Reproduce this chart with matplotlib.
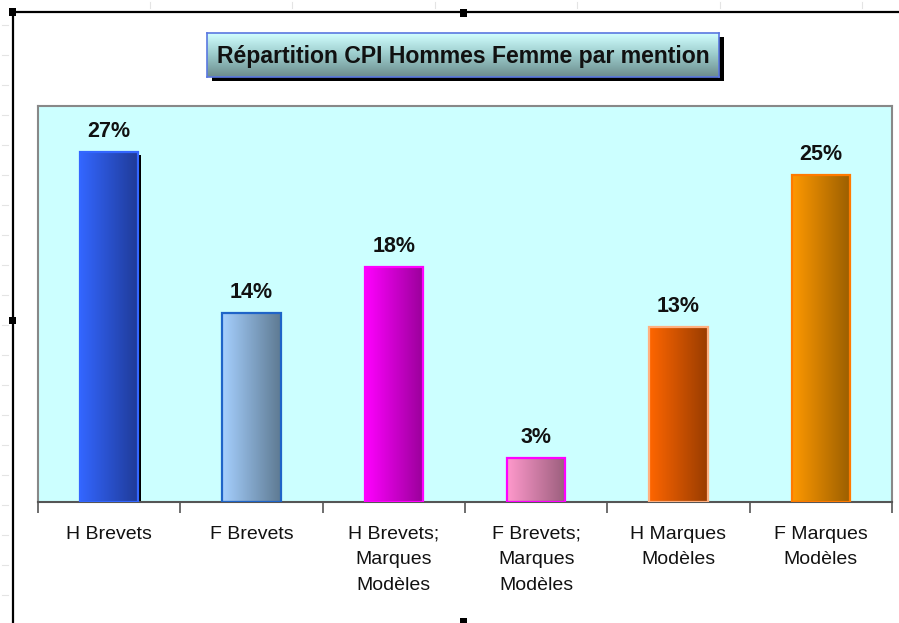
import numpy as np
import matplotlib
matplotlib.use("Agg")
import matplotlib.pyplot as plt
from matplotlib.patches import Rectangle
from matplotlib.colors import LinearSegmentedColormap

plt.rcParams['font.family'] = ['Liberation Sans', 'DejaVu Sans']

# ---- data ----
categories = ["H Brevets", "F Brevets", "H Brevets;\nMarques\nModèles",
              "F Brevets;\nMarques\nModèles", "H Marques\nModèles", "F Marques\nModèles"]
values = [27.0, 14.4, 18.0, 3.0, 13.3, 25.2]
title = "Répartition CPI Hommes Femme par mention"

# gradient (left colour, right colour) and edge colour per bar
grad_left = ["#3366FF", "#A6D0FF", "#FF00FF", "#FF99CC", "#FF6600", "#FF9900"]
grad_right = ["#1F3A96", "#5E7A92", "#990099", "#9A5E7C", "#983C00", "#9A5E00"]
edge_cols = ["#3366FF", "#1F64C8", "#FF00FF", "#FF00FF", "#FFB080", "#FF7A00"]

W, H = 899, 623
fig = plt.figure(figsize=(W / 100, H / 100), dpi=100)
fig.patch.set_facecolor("white")

def fx(px):
    return px / W

def fy(py):
    return 1 - py / H

# ---- outer chart frame (spreadsheet selection look) ----
for yy in range(25, 623, 30):
    fig.add_artist(plt.Line2D([fx(2), fx(8)], [fy(yy), fy(yy)], color="#E4E4E4", lw=0.8))
for xx in [150, 292, 435, 577, 720, 862]:
    fig.add_artist(plt.Line2D([fx(xx), fx(xx)], [fy(2), fy(8)], color="#E4E4E4", lw=0.8))
fig.add_artist(plt.Line2D([fx(12), fx(899)], [fy(11.5), fy(11.5)], color="black", lw=1.6))
fig.add_artist(plt.Line2D([fx(12.5), fx(12.5)], [fy(11), fy(623)], color="black", lw=1.6))
for (hx, hy) in [(12, 12), (463, 13), (12, 320), (463, 621)]:
    fig.add_artist(Rectangle((fx(hx - 3.5), fy(hy + 3.5)), fx(7), 7 / H,
                             facecolor="black", edgecolor="none"))

# ---- main axes ----
ax_l, ax_r, ax_t, ax_b = 38, 892, 106, 502
ax = fig.add_axes([fx(ax_l), fy(ax_b), fx(ax_r - ax_l), (ax_b - ax_t) / H])
ax.set_facecolor("#CCFFFF")
ymin, ymax = -0.45, 30.6
n = len(categories)
x = np.arange(n)
bw = 0.41
bars = ax.bar(x, [v - ymin for v in values], bottom=ymin, width=bw,
              facecolor="none", edgecolor="none", zorder=2)

for i, b in enumerate(bars):
    x0, y0 = b.get_x(), b.get_y()
    x1, y1 = x0 + b.get_width(), y0 + b.get_height()
    if i == 0:
        ax.add_patch(Rectangle((x1, y0), 0.022, (y1 - y0) - 0.25,
                               facecolor="black", edgecolor="none", zorder=1.5))
    cmap = LinearSegmentedColormap.from_list(f"g{i}", [grad_left[i], grad_right[i]])
    grad = np.linspace(0, 1, 256).reshape(1, -1)
    ax.imshow(grad, cmap=cmap, extent=(x0, x1, y0, y1), aspect="auto",
              origin="lower", zorder=2, interpolation="bilinear")
    ax.add_patch(Rectangle((x0, y0), x1 - x0, y1 - y0, facecolor="none",
                           edgecolor=edge_cols[i], lw=1.6, zorder=3))
    ax.text(b.get_x() + b.get_width() / 2, values[i] + 0.75, f"{values[i]:.0f}%",
            ha="center", va="bottom", fontsize=15.5, fontweight="bold", color="#111111")

ax.set_xlim(-0.5, n - 0.5)
ax.set_ylim(ymin, ymax)
ax.set_yticks([])
ax.set_xticks(np.arange(-0.5, n, 1.0))
ax.set_xticklabels([])
ax.set_xticks(x, minor=True)
ax.set_xticklabels(categories, minor=True, fontsize=14, linespacing=1.66, color="#111111")
ax.tick_params(axis="x", which="major", direction="out", length=8, width=1.2, color="#555555")
ax.tick_params(axis="x", which="minor", length=0, pad=17)
for s in ["top", "right", "left"]:
    ax.spines[s].set_color("#888888")
    ax.spines[s].set_linewidth(1.5)
ax.spines["bottom"].set_color("#555555")
ax.spines["bottom"].set_linewidth(1.5)

# ---- title box ----
tb_l, tb_r, tb_t, tb_b = 207, 719, 33, 77
shadow = Rectangle((fx(tb_l + 5), fy(tb_b + 4)), fx(tb_r - tb_l), (tb_b - tb_t) / H,
                   facecolor="black", edgecolor="none", zorder=-1)
fig.add_artist(shadow)
tax = fig.add_axes([fx(tb_l), fy(tb_b), fx(tb_r - tb_l), (tb_b - tb_t) / H])
tax.set_zorder(5)
tcmap = LinearSegmentedColormap.from_list("tg", ["#D2FFFF", "#9ACACA", "#6C8C8C"])
tax.imshow(np.linspace(0, 1, 256).reshape(-1, 1), cmap=tcmap, aspect="auto",
           extent=(0, 1, 0, 1), origin="upper", interpolation="bilinear")
tax.set_xlim(0, 1)
tax.set_ylim(0, 1)
tax.set_xticks([])
tax.set_yticks([])
for s in tax.spines.values():
    s.set_color("#5A78E0")
    s.set_linewidth(1.2)
tax.text(0.5, 0.47, title, ha="center", va="center", fontsize=16.6,
         fontweight="bold", color="#111111", transform=tax.transAxes)

fig.savefig("out.png", dpi=100, facecolor="white")
